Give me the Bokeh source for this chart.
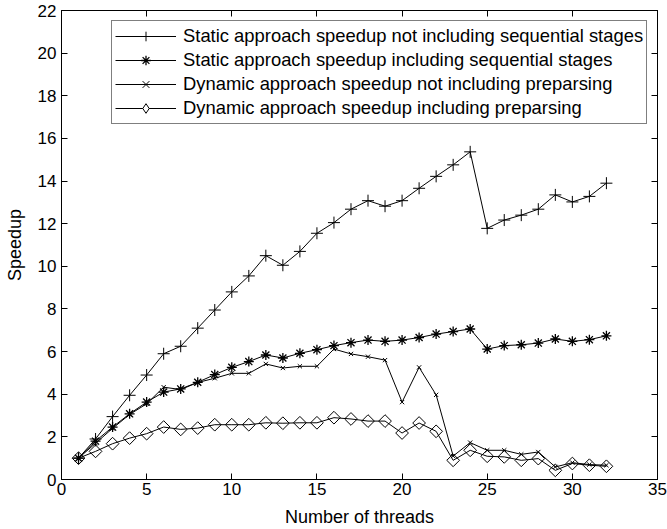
import math
from bokeh.plotting import figure
from bokeh.models import (LinearAxis, FixedTicker, Range1d, Legend, LegendItem)
from bokeh.embed import file_html
from bokeh.resources import INLINE

threads = list(range(1, 33))

static_no_seq = [1.0, 1.9, 2.95, 3.95, 4.9, 5.9, 6.25, 7.1, 7.95, 8.8, 9.55, 10.5,
                 10.05, 10.7, 11.55, 12.05, 12.68, 13.08, 12.82, 13.08, 13.66, 14.22,
                 14.76, 15.37, 11.78, 12.17, 12.4, 12.68, 13.35, 13.02, 13.28, 13.9]

static_with_seq = [1.0, 1.8, 2.46, 3.08, 3.63, 4.1, 4.25, 4.56, 4.92, 5.26, 5.53, 5.84,
                   5.7, 5.92, 6.09, 6.28, 6.42, 6.54, 6.48, 6.54, 6.66, 6.82,
                   6.94, 7.06, 6.12, 6.28, 6.32, 6.4, 6.59, 6.48, 6.56, 6.74]

dynamic_no_pre = [1.0, 1.7, 2.4, 3.05, 3.55, 4.33, 4.22, 4.55, 4.75, 4.98, 4.98, 5.42,
                  5.23, 5.31, 5.31, 6.12, 5.89, 5.76, 5.6, 3.63, 5.26, 3.97,
                  1.1, 1.73, 1.37, 1.37, 1.18, 1.29, 0.59, 0.79, 0.7, 0.67]

dynamic_with_pre = [1.0, 1.32, 1.68, 1.94, 2.15, 2.46, 2.35, 2.41, 2.57, 2.57, 2.57, 2.66,
                    2.64, 2.66, 2.66, 2.9, 2.84, 2.74, 2.74, 2.18, 2.65, 2.26,
                    0.9, 1.37, 1.09, 1.06, 0.9, 0.98, 0.43, 0.75, 0.67, 0.62]

labels = ["Static approach speedup not including sequential stages",
          "Static approach speedup including sequential stages",
          "Dynamic approach speedup not including preparsing",
          "Dynamic approach speedup including preparsing"]

x_ticks = [0, 5, 10, 15, 20, 25, 30, 35]
y_ticks = [0, 2, 4, 6, 8, 10, 12, 14, 16, 18, 20, 22]

FONT = "Liberation Sans"

p = figure(width=667, height=529, output_backend="svg", toolbar_location=None,
           x_range=Range1d(0, 35), y_range=Range1d(0, 22),
           min_border_left=61, min_border_right=10, min_border_top=10,
           min_border_bottom=50, x_axis_label="Number of threads",
           y_axis_label="Speedup")
p.xgrid.visible = False
p.ygrid.visible = False
p.outline_line_color = "black"
p.background_fill_color = "white"
p.border_fill_color = "white"

for ax in [p.xaxis[0], p.yaxis[0]]:
    ax.major_tick_in = 6
    ax.major_tick_out = 0
    ax.minor_tick_line_color = None
    ax.axis_line_color = "black"
    ax.major_label_text_font = FONT
    ax.major_label_text_font_size = "17px"
    ax.axis_label_text_font = FONT
    ax.axis_label_text_font_size = "18px"
    ax.axis_label_text_font_style = "normal"
    ax.axis_label_text_color = "black"
    ax.major_label_text_color = "black"
p.xaxis[0].ticker = FixedTicker(ticks=x_ticks)
p.yaxis[0].ticker = FixedTicker(ticks=y_ticks)
p.xaxis[0].major_label_standoff = 3
p.xaxis[0].axis_label_standoff = 9
p.yaxis[0].major_label_standoff = 5
p.yaxis[0].axis_label_standoff = 10

top = LinearAxis(ticker=FixedTicker(ticks=x_ticks), major_tick_in=6, major_tick_out=0,
                 minor_tick_line_color=None, major_label_standoff=0,
                 major_label_overrides={t: "" for t in x_ticks})
right = LinearAxis(ticker=FixedTicker(ticks=y_ticks), major_tick_in=6, major_tick_out=0,
                   minor_tick_line_color=None, major_label_standoff=0,
                   major_label_overrides={t: "" for t in y_ticks})
p.add_layout(top, "above")
p.add_layout(right, "right")

items = []
l1 = p.line(threads, static_no_seq, line_color="black", line_width=1)
s1 = p.scatter(threads, static_no_seq, marker="cross", size=12, line_color="black", line_width=1)
items.append(LegendItem(label=labels[0], renderers=[l1, s1]))

l2 = p.line(threads, static_with_seq, line_color="black", line_width=1)
s2 = p.scatter(threads, static_with_seq, marker="asterisk", size=10, line_color="black", line_width=1.3)
items.append(LegendItem(label=labels[1], renderers=[l2, s2]))

l3 = p.line(threads, dynamic_no_pre, line_color="black", line_width=1)
s3 = p.scatter(threads, dynamic_no_pre, marker="x", size=6, line_color="black", line_width=1)
items.append(LegendItem(label=labels[2], renderers=[l3, s3]))

l4 = p.line(threads, dynamic_with_pre, line_color="black", line_width=1)
s4 = p.scatter(threads, dynamic_with_pre, marker="square", angle=math.pi / 4, size=9,
               line_color="black", fill_color=None, line_width=1)
# legend-only diamond (legend markers are always drawn unrotated)
s4_leg = p.scatter(threads, dynamic_with_pre, marker="diamond", size=13,
                   line_color="black", fill_color="white", line_width=1, visible=False)
items.append(LegendItem(label=labels[3], renderers=[l4, s4_leg]))

legend = Legend(items=items, location=(50, 355))
legend.label_text_font = FONT
legend.label_text_font_size = "18.4px"
legend.label_text_color = "black"
legend.glyph_width = 61
legend.glyph_height = 24
legend.label_height = 24
legend.label_standoff = 7
legend.spacing = 0
legend.padding = 3
legend.margin = 0
legend.border_line_color = "black"
legend.border_line_width = 1
legend.background_fill_color = "white"
legend.background_fill_alpha = 1.0
p.add_layout(legend, "center")

open("out.html", "w").write(file_html(p, INLINE))
